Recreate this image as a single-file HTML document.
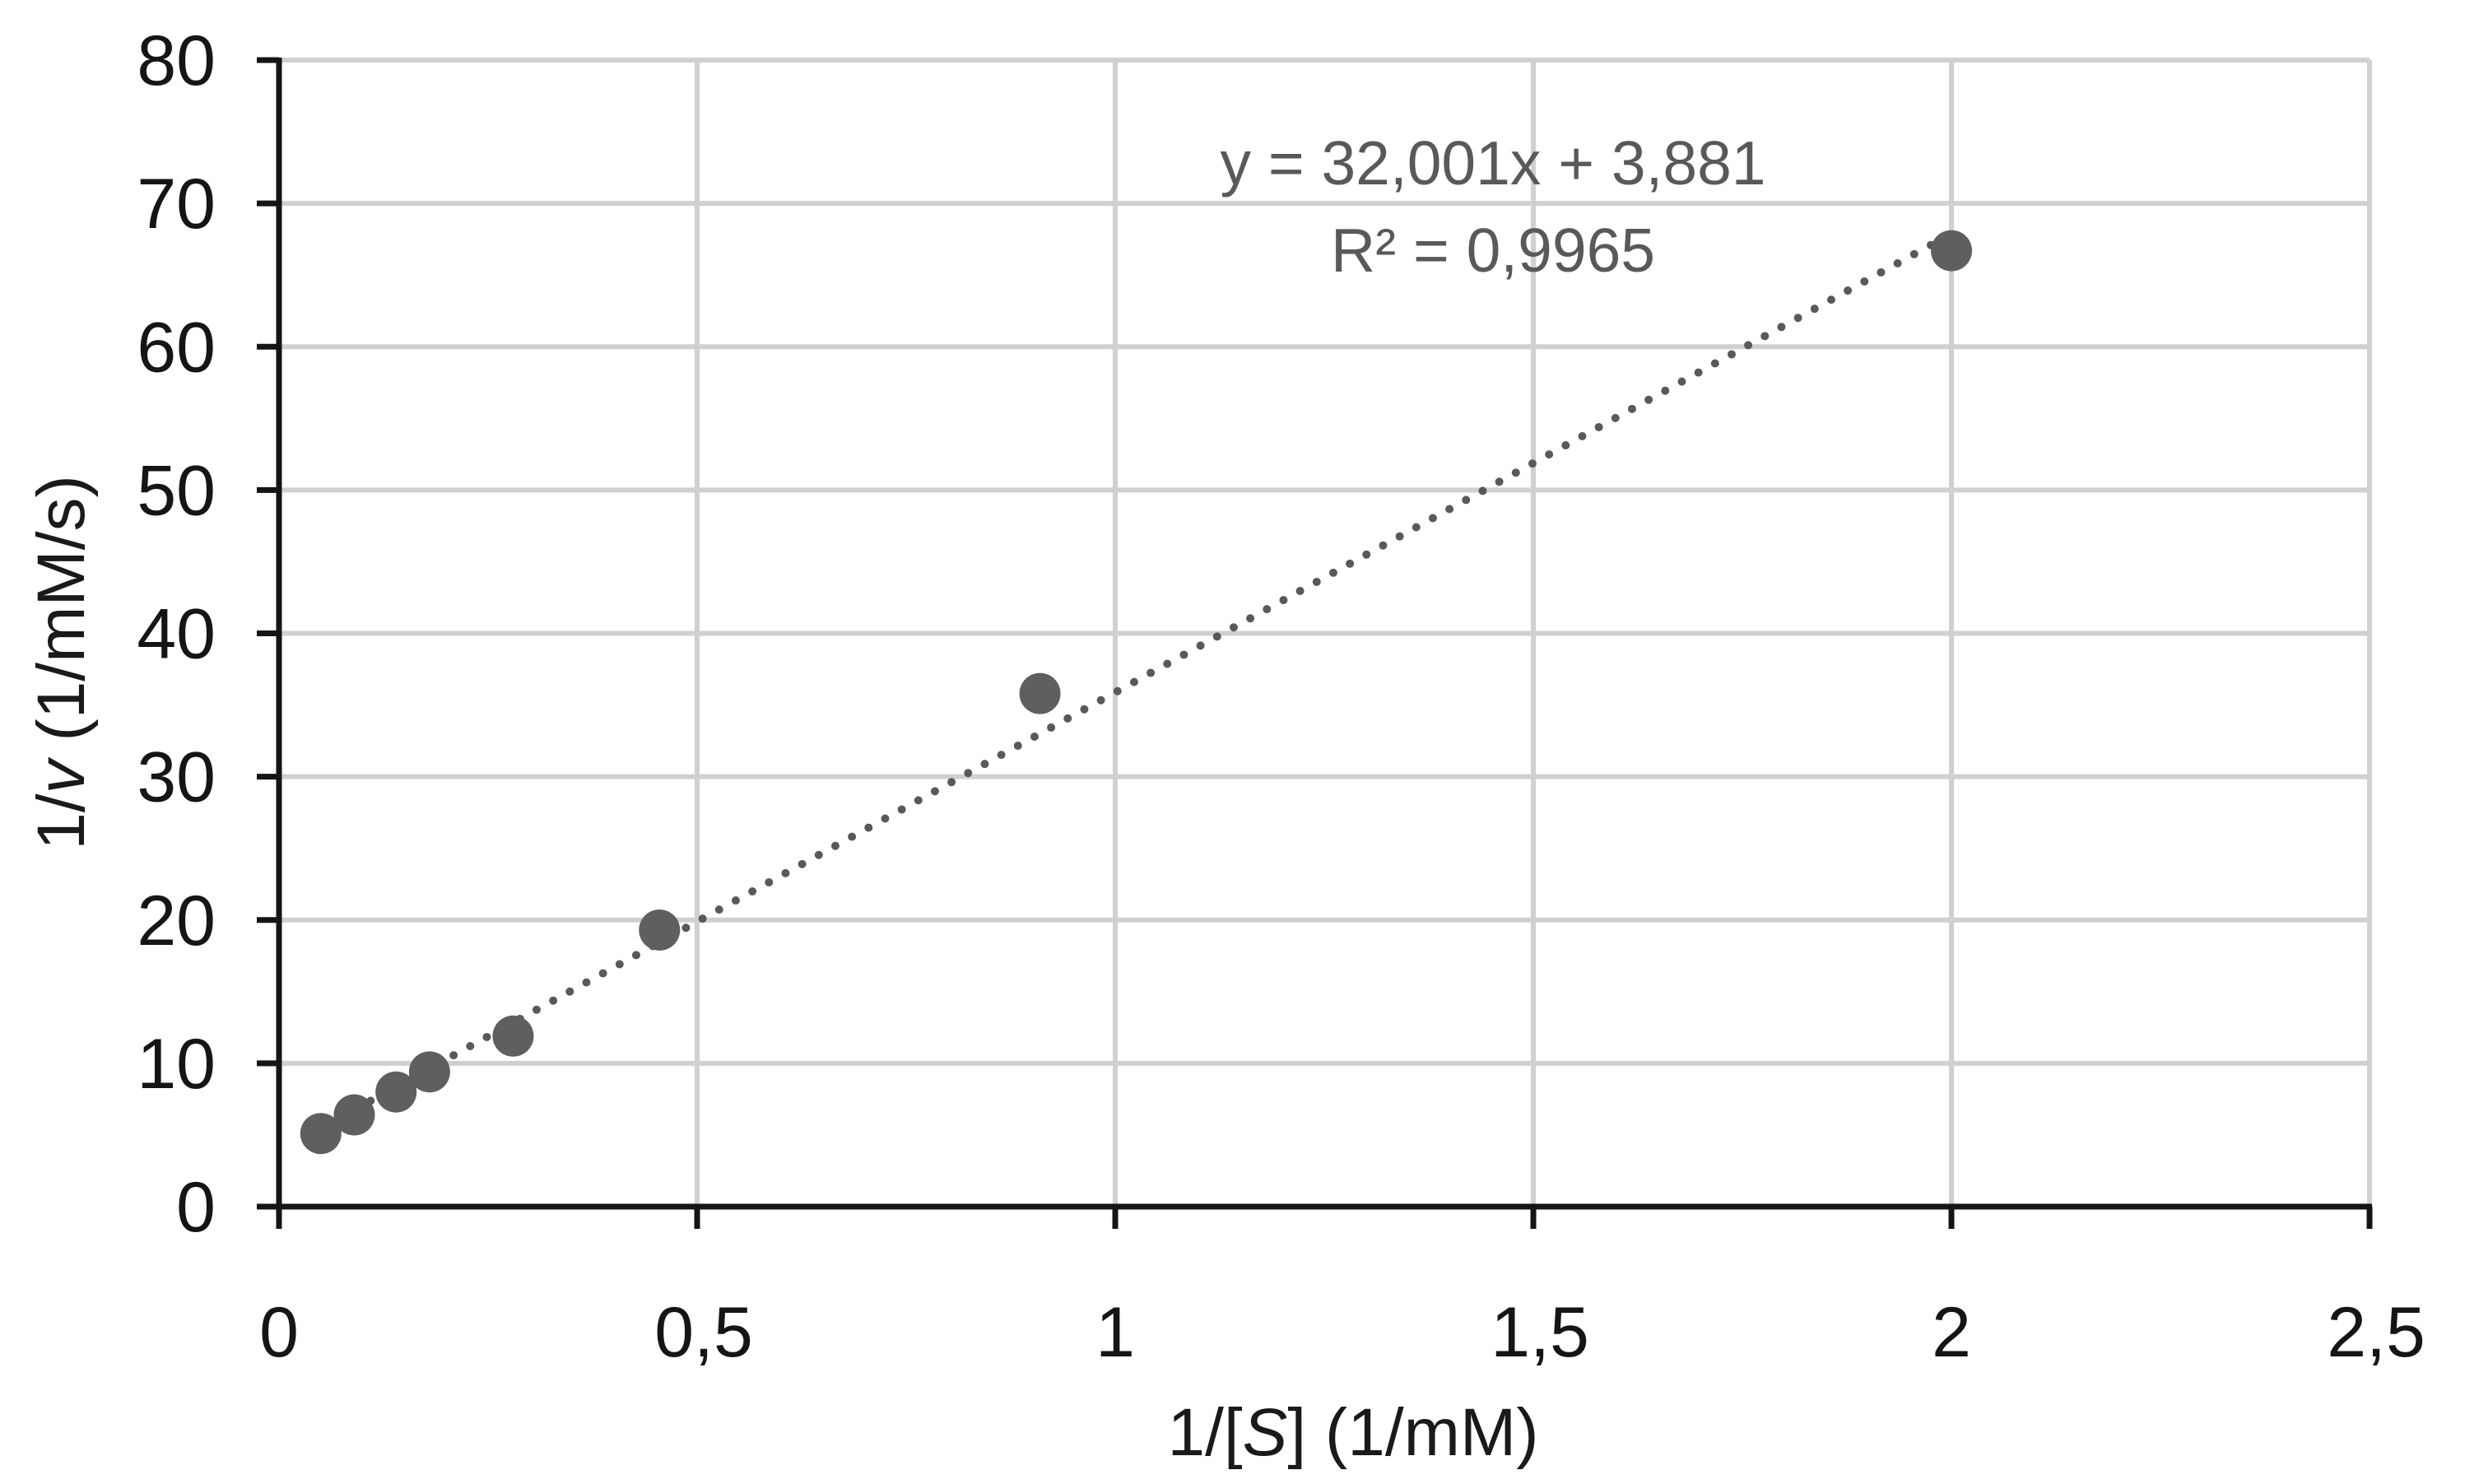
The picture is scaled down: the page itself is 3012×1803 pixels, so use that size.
<!DOCTYPE html>
<html><head><meta charset="utf-8"><style>
html,body{margin:0;padding:0;background:#fff}
svg{display:block;font-family:"Liberation Sans Narrow","Liberation Sans",sans-serif}
</style></head><body>
<svg id="chart" width="3012" height="1803" viewBox="0 0 3012 1803">
<g id="grid"></g>
<g id="trend"></g>
<g id="pts"></g>
<g id="axes"></g>
<text x="1814" y="224" text-anchor="middle" font-size="75" fill="#595959">y = 32,001x + 3,881</text>
<text x="1814" y="330" text-anchor="middle" font-size="75" fill="#595959">R² = 0,9965</text>
<text x="1644" y="1768" text-anchor="middle" font-size="82" fill="#1a1a1a">1/[<tspan font-style="italic">S</tspan>] (1/mM)</text>
<text transform="translate(102,805) rotate(-90)" text-anchor="middle" font-size="82" fill="#1a1a1a">1/<tspan font-style="italic">v</tspan> (1/mM/s)</text>
</svg>
<script>
const xTicks=[0,0.5,1,1.5,2,2.5];
const xTickLabels=["0","0,5","1","1,5","2","2,5"];
const yTicks=[0,10,20,30,40,50,60,70,80];
const yTickLabels=["0","10","20","30","40","50","60","70","80"];
const xValues=[0.05,0.09,0.14,0.18,0.28,0.455,0.91,2.0];
const yValues=[5.1,6.4,8.0,9.4,11.9,19.3,35.8,66.7];
const slope=32.001, intercept=3.881;
const NS="http://www.w3.org/2000/svg";
const X0=339,XW=508/0.5,Y0=1466,YH=(1466-73)/80;
function sx(v){return X0+v*XW;}
function sy(v){return Y0-v*YH;}
function mk(tag,attrs,parent){const e=document.createElementNS(NS,tag);for(const k in attrs)e.setAttribute(k,attrs[k]);parent.appendChild(e);return e;}
const grid=document.getElementById('grid'),axes=document.getElementById('axes'),pts=document.getElementById('pts'),trend=document.getElementById('trend');
const xmax=xTicks[xTicks.length-1],ymax=yTicks[yTicks.length-1];
yTicks.forEach((t,i)=>{
  if(t>0){const g=mk('line',{x1:sx(0),x2:sx(xmax),y1:sy(t),y2:sy(t),stroke:'#d0d0d0','stroke-width':6},grid);
  
  }
  const tk=mk('line',{x1:sx(0)-27,x2:sx(0),y1:sy(t),y2:sy(t),stroke:'#151515','stroke-width':7},axes);
  
  
  const lb=mk('text',{x:262,y:sy(t)+30,'text-anchor':'end','font-size':86,fill:'#151515'},axes);
  lb.textContent=yTickLabels[i];
  
  
});
xTicks.forEach((t,i)=>{
  if(t>0){const g=mk('line',{x1:sx(t),x2:sx(t),y1:sy(0),y2:sy(ymax),stroke:'#d0d0d0','stroke-width':6},grid);
  
  }
  const tk=mk('line',{x1:sx(t),x2:sx(t),y1:sy(0),y2:sy(0)+27,stroke:'#151515','stroke-width':7},axes);
  
  
  const lb=mk('text',{x:sx(t)+(xTickLabels[i].length>1?8:0),y:1648,'text-anchor':'middle','font-size':86,fill:'#151515'},axes);
  lb.textContent=xTickLabels[i];
  
  
});
const ya=mk('line',{x1:sx(0),x2:sx(0),y1:sy(ymax)-3,y2:sy(0)+3,stroke:'#151515','stroke-width':7},axes);


const xa=mk('line',{x1:sx(0)-3,x2:sx(xmax)+3,y1:sy(0),y2:sy(0),stroke:'#151515','stroke-width':7},axes);


const xs=Math.min(...xValues),xe=Math.max(...xValues);
const tl=mk('line',{x1:sx(xs),y1:sy(slope*xs+intercept),x2:sx(xe),y2:sy(slope*xe+intercept),stroke:'#595959','stroke-width':10,'stroke-linecap':'round','stroke-dasharray':'0 23'},trend);


xValues.forEach((x,i)=>{
  const c=mk('circle',{cx:sx(x),cy:sy(yValues[i]),r:25,fill:'#5f5f5f'},pts);
  
  
});
</script>
</body></html>
